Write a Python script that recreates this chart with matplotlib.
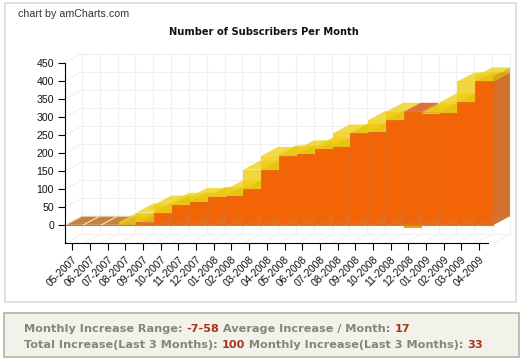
import matplotlib
matplotlib.use("Agg")
import matplotlib.pyplot as plt
from matplotlib.patches import Polygon, Rectangle

months = ["05-2007", "06-2007", "07-2007", "08-2007", "09-2007", "10-2007", "11-2007", "12-2007",
          "01-2008", "02-2008", "03-2008", "04-2008", "05-2008", "06-2008", "07-2008", "08-2008",
          "09-2008", "10-2008", "11-2008", "12-2008", "01-2009", "02-2009", "03-2009", "04-2009"]
subscribers = [0, 0, 0, 0, 8, 35, 57, 65, 78, 81, 99, 154, 192, 196, 210, 217, 254, 257, 291, 314, 307, 312, 340, 398]
increase = [0, 0, 0, 8, 27, 22, 8, 13, 3, 18, 55, 38, 4, 14, 7, 37, 3, 34, 23, -7, 5, 28, 58, 14]
y_ticks = [0, 50, 100, 150, 200, 250, 300, 350, 400, 450]

W, H = 530, 361
DX, DY = 0.95, 25  # 3d depth in category / value units

fig = plt.figure(figsize=(W / 100, H / 100), dpi=100)
fig.patches.append(Rectangle((4.5 / W, 1 - 302 / H), 511.5 / W, 299 / H, transform=fig.transFigure,
                             fc="white", ec="#dcdcdc", lw=1.2, zorder=-2))
fig.patches.append(Rectangle((3.5 / W, 1 - 356.5 / H), 515.5 / W, 43.5 / H, transform=fig.transFigure,
                             fc="#f2f1ea", ec="#b3b3a5", lw=1.2, zorder=-2))

ax = fig.add_axes([65 / W, 1 - 243.3 / H, 428 / W, 180.6 / H])
ax.patch.set_alpha(0)
n = len(months)
ax.set_xlim(0, n)
ax.set_ylim(-50, 450)


def poly(pts, fc, alpha=1.0, ec="none", lw=0.0):
    ax.add_patch(Polygon(pts, closed=True, fc=fc, ec=ec, lw=lw, alpha=alpha, clip_on=False))


def column(x, y0, y1, front, top, side, alpha=1.0, ec="none", lw=0.0):
    # right side, top, front, in that order
    poly([(x + 1, y0), (x + 1 + DX, y0 + DY), (x + 1 + DX, y1 + DY), (x + 1, y1)], side, alpha)
    poly([(x, y1), (x + 1, y1), (x + 1 + DX, y1 + DY), (x + DX, y1 + DY)], top, alpha)
    poly([(x, y0), (x + 1, y0), (x + 1, y1), (x, y1)], front, alpha, ec, lw)


# back wall and left wall grid
grid = "#f0f0f0"
for v in [-50] + y_ticks:
    ax.plot([DX, n + DX], [v + DY, v + DY], color=grid, lw=0.8, clip_on=False, zorder=0)
    ax.plot([0, DX], [v, v + DY], color=grid, lw=0.8, clip_on=False, zorder=0)
for i in range(n + 1):
    ax.plot([i + DX, i + DX], [-50 + DY, 450 + DY], color=grid, lw=0.8, clip_on=False, zorder=0)
    ax.plot([i, i + DX], [-50, -50 + DY], color="#f6f0ec", lw=0.8, clip_on=False, zorder=0)

# columns, left to right so the next one covers the side of this one
for i in range(n):
    s, d = subscribers[i], increase[i]
    if d < 0:
        poly([(i, 0), (i + 1, 0), (i + 1, d), (i, d)], "#e0a800")
    column(i, 0, s, "#f26406", "#e07040" if d < 0 else "#d09a08", "#d2702c", ec="#e2691e", lw=0.5)
    if d > 0:
        column(i, s, s + d, "#f1cc14", "#efd21e", "#d9a90e", alpha=0.82)
    # floor seen through the column
    floor = [(i, 0), (i + 1, 0), (i + 1 + DX, DY), (i + DX, DY)]
    if s == 0 and d == 0:
        poly(floor, "#c9823e", ec="#f3e3d0", lw=0.7)
    else:
        poly(floor, "#c08a50", alpha=0.28)
    ax.plot([i, i + 0.12], [0, 0], color="#fff4e0", lw=0.8, clip_on=False)

ax.plot([0, n], [0, 0], color="#c9823e", lw=0.8, clip_on=False)

for sp in ["top", "right"]:
    ax.spines[sp].set_visible(False)
ax.spines["left"].set_bounds(-50, 450)
ax.spines["bottom"].set_bounds(0, 23.72)
ax.set_yticks(y_ticks)
ax.set_xticks([0.41 + 0.9916 * i for i in range(n)])
ax.set_xticklabels(months, rotation=45, ha="right", va="top", rotation_mode="anchor",
                   family="Liberation Sans", fontsize=7.5, color="#111111")
ax.tick_params(axis="both", length=5, width=0.8, pad=3)
for t in ax.get_yticklabels():
    t.set_family("Liberation Sans")
    t.set_fontsize(7.6)
    t.set_color("#111111")

fig.text(18 / W, 1 - 14 / H, "chart by amCharts.com", family="Liberation Sans", fontsize=7.7, color="#333333",
         va="center")
fig.text(264 / W, 1 - 32 / H, "Number of Subscribers Per Month", family="DejaVu Sans", fontsize=7.1,
         fontweight="bold", color="#111111", ha="center", va="center")

grey = "#85857a"
red = "#a5361e"
lines = [
    (1 - 331.5 / H, [("Monthly Increase Range: ", grey), ("-7-58", red), (" Average Increase / Month: ", grey), ("17", red)]),
    (1 - 347.5 / H, [("Total Increase(Last 3 Months): ", grey), ("100", red), (" Monthly Increase(Last 3 Months): ", grey), ("33", red)]),
]
renderer = fig.canvas.get_renderer()
for y, parts in lines:
    x = 24.0
    for txt, col in parts:
        t = fig.text(x / W, y, txt, family="DejaVu Sans", fontsize=8.1, fontweight="bold", color=col, va="baseline")
        x += t.get_window_extent(renderer).width

fig.savefig("out.png", dpi=100)
